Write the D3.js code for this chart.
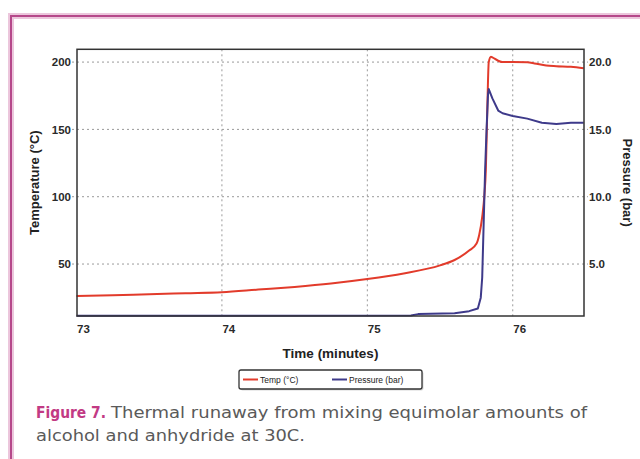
<!DOCTYPE html>
<html>
<head>
<meta charset="utf-8">
<script src="https://cdn.jsdelivr.net/npm/d3@7"></script>
<style>
  body { margin: 0; background: #fff; }
  svg { display: block; }
</style>
</head>
<body>
<div id="chart"></div>
<script>
// data
var tempTime = [73.0, 73.25, 73.5, 73.75, 74.0, 74.25, 74.5, 74.75, 75.0, 75.25, 75.5, 75.6, 75.7, 75.75,
                75.77, 75.79, 75.805, 75.815, 75.825, 75.835, 75.85, 75.86, 75.9, 75.93, 76.0, 76.1,
                76.15, 76.23, 76.3, 76.4, 76.488];
var tempValues = [26.2, 26.8, 27.6, 28.3, 29.0, 31.0, 33.0, 35.5, 38.8, 43.0, 49.0, 53.0, 60.0, 65.0,
                  72.0, 85.0, 101.0, 120.0, 165.0, 200.0, 204.0, 203.5, 201.0, 200.0, 200.0, 199.8,
                  199.0, 197.5, 197.0, 196.5, 195.5];

var pressTime = [73.0, 75.3, 75.35, 75.6, 75.7, 75.76, 75.78, 75.79, 75.8, 75.81, 75.82, 75.83, 75.835,
                 75.86, 75.9, 75.93, 76.0, 76.1, 76.2, 76.3, 76.4, 76.488];
var pressValues = [1.15, 1.18, 1.28, 1.35, 1.5, 1.7, 2.5, 4.0, 8.0, 12.0, 15.0, 17.6, 18.0,
                   17.3, 16.4, 16.2, 16.0, 15.8, 15.5, 15.4, 15.5, 15.5];

var xTicks = [73, 74, 75, 76];
var tempTicks = [50, 100, 150, 200];
var pressTicks = [5, 10, 15, 20];

var W = 640, H = 459;
// plot box (window.top is reserved, so prefixed names)
var plotL = 77, plotR = 584, plotT = 49.3, plotB = 316;

var svg = d3.select("#chart").append("svg")
    .attr("width", W)
    .attr("height", H);

// pink page frame
svg.append("path")
    .attr("d", "M640,16 H11 V459")
    .attr("fill", "none")
    .attr("stroke", "#ecc6dc")
    .attr("stroke-width", 6);
svg.append("path")
    .attr("d", "M640,16 H11 V459")
    .attr("fill", "none")
    .attr("stroke", "#b5488a")
    .attr("stroke-width", 2);

var x = d3.scaleLinear().domain([73, 76.49]).range([76.5, plotR]);
var yT = d3.scaleLinear().domain([11.4, 209.5]).range([plotB, plotT]);
var yP = d3.scaleLinear().domain([1.14, 20.95]).range([plotB, plotT]);

var grid = svg.append("g")
    .attr("stroke", "#9a9a9a")
    .attr("stroke-width", 1)
    .attr("stroke-dasharray", "2,3");

// horizontal grid (extends a bit past the frame as ticks)
grid.selectAll(".hg")
    .data(tempTicks)
    .enter()
    .append("line")
    .attr("x1", plotL - 5)
    .attr("x2", plotR + 4)
    .attr("y1", function(d) { return yT(d); })
    .attr("y2", function(d) { return yT(d); });

grid.selectAll(".vg")
    .data(xTicks.filter(function(d) { return d > 73; }))
    .enter()
    .append("line")
    .attr("y1", plotT)
    .attr("y2", plotB + 3)
    .attr("x1", function(d) { return x(d); })
    .attr("x2", function(d) { return x(d); });

function styleTicks(sel) {
    sel.attr("font-family", "Liberation Sans, Arial, sans-serif")
        .attr("font-weight", "bold")
        .attr("font-size", 11.5)
        .attr("fill", "#2a2a2a");
}

// left axis labels
svg.append("g")
    .attr("transform", "translate(" + plotL + ",0)")
    .call(d3.axisLeft(yT).tickValues(tempTicks).tickSize(0).tickPadding(6))
    .call(function(g) { g.select(".domain").remove(); })
    .selectAll("text")
    .call(styleTicks);

// right axis labels
svg.append("g")
    .attr("transform", "translate(" + plotR + ",0)")
    .call(d3.axisRight(yP).tickValues(pressTicks).tickSize(0).tickPadding(5)
        .tickFormat(d3.format(".1f")))
    .call(function(g) { g.select(".domain").remove(); })
    .selectAll("text")
    .call(styleTicks);

// bottom axis labels, left-anchored at tick
svg.append("g")
    .attr("transform", "translate(0," + plotB + ")")
    .call(d3.axisBottom(x).tickValues(xTicks).tickSize(0).tickPadding(9)
        .tickFormat(d3.format("d")))
    .call(function(g) { g.select(".domain").remove(); })
    .selectAll("text")
    .attr("text-anchor", "start")
    .call(styleTicks);

// lines
var tempData = tempTime.map(function(t, i) { return [t, tempValues[i]]; });
var pressData = pressTime.map(function(t, i) { return [t, pressValues[i]]; });

svg.append("path")
    .datum(tempData)
    .attr("fill", "none")
    .attr("stroke", "#e23b2b")
    .attr("stroke-width", 2)
    .attr("stroke-linejoin", "round")
    .attr("d", d3.line()
        .curve(d3.curveMonotoneX)
        .x(function(d) { return x(d[0]); })
        .y(function(d) { return yT(d[1]); }));

svg.append("path")
    .datum(pressData)
    .attr("fill", "none")
    .attr("stroke", "#3e3a8a")
    .attr("stroke-width", 2)
    .attr("stroke-linejoin", "round")
    .attr("d", d3.line()
        .x(function(d) { return x(d[0]); })
        .y(function(d) { return yP(d[1]); }));

// plot frame
svg.append("rect")
    .attr("x", plotL)
    .attr("y", plotT)
    .attr("width", plotR - plotL)
    .attr("height", plotB - plotT)
    .attr("fill", "none")
    .attr("stroke", "#333")
    .attr("stroke-width", 1.5);

// axis titles
svg.append("text")
    .attr("transform", "translate(39," + ((plotT + plotB) / 2) + ") rotate(-90)")
    .attr("text-anchor", "middle")
    .attr("font-family", "Liberation Sans, Arial, sans-serif")
    .attr("font-weight", "bold")
    .attr("font-size", 13)
    .attr("fill", "#222")
    .text("Temperature (°C)");

svg.append("text")
    .attr("transform", "translate(623," + ((plotT + plotB) / 2) + ") rotate(90)")
    .attr("text-anchor", "middle")
    .attr("font-family", "Liberation Sans, Arial, sans-serif")
    .attr("font-weight", "bold")
    .attr("font-size", 13)
    .attr("fill", "#222")
    .text("Pressure (bar)");

svg.append("text")
    .attr("x", (plotL + plotR) / 2)
    .attr("y", 358)
    .attr("text-anchor", "middle")
    .attr("font-family", "Liberation Sans, Arial, sans-serif")
    .attr("font-weight", "bold")
    .attr("font-size", 13.5)
    .attr("fill", "#222")
    .text("Time (minutes)");

// legend
var lg = svg.append("g");
lg.append("rect")
    .attr("x", 240.5).attr("y", 371.5)
    .attr("width", 183).attr("height", 19).attr("rx", 2)
    .attr("fill", "#d8d8d8");
lg.append("rect")
    .attr("x", 239).attr("y", 370)
    .attr("width", 183).attr("height", 19).attr("rx", 2)
    .attr("fill", "#fff")
    .attr("stroke", "#333")
    .attr("stroke-width", 1.3);
var legendItems = [
    {label: "Temp (°C)", color: "#e23b2b", x: 243},
    {label: "Pressure (bar)", color: "#3e3a8a", x: 332}
];
legendItems.forEach(function(it) {
    lg.append("line")
        .attr("x1", it.x).attr("x2", it.x + 15)
        .attr("y1", 379.5).attr("y2", 379.5)
        .attr("stroke", it.color)
        .attr("stroke-width", 2);
    lg.append("text")
        .attr("x", it.x + 17)
        .attr("y", 382.5)
        .attr("font-family", "Liberation Sans, Arial, sans-serif")
        .attr("font-size", 8.5)
        .attr("fill", "#222")
        .text(it.label);
});

// caption
svg.append("text")
    .attr("x", 36).attr("y", 418)
    .attr("font-family", "DejaVu Sans, sans-serif")
    .attr("font-size", 16)
    .attr("font-weight", "bold")
    .attr("fill", "#c23a84")
    .attr("textLength", 70)
    .attr("lengthAdjust", "spacingAndGlyphs")
    .text("Figure 7.");
svg.append("text")
    .attr("x", 111).attr("y", 418)
    .attr("font-family", "DejaVu Sans, sans-serif")
    .attr("font-size", 16)
    .attr("fill", "#5a5a5a")
    .attr("textLength", 476)
    .attr("lengthAdjust", "spacingAndGlyphs")
    .text("Thermal runaway from mixing equimolar amounts of");
svg.append("text")
    .attr("x", 36).attr("y", 441)
    .attr("font-family", "DejaVu Sans, sans-serif")
    .attr("font-size", 16)
    .attr("fill", "#5a5a5a")
    .attr("textLength", 269)
    .attr("lengthAdjust", "spacingAndGlyphs")
    .text("alcohol and anhydride at 30C.");
</script>
</body>
</html>
